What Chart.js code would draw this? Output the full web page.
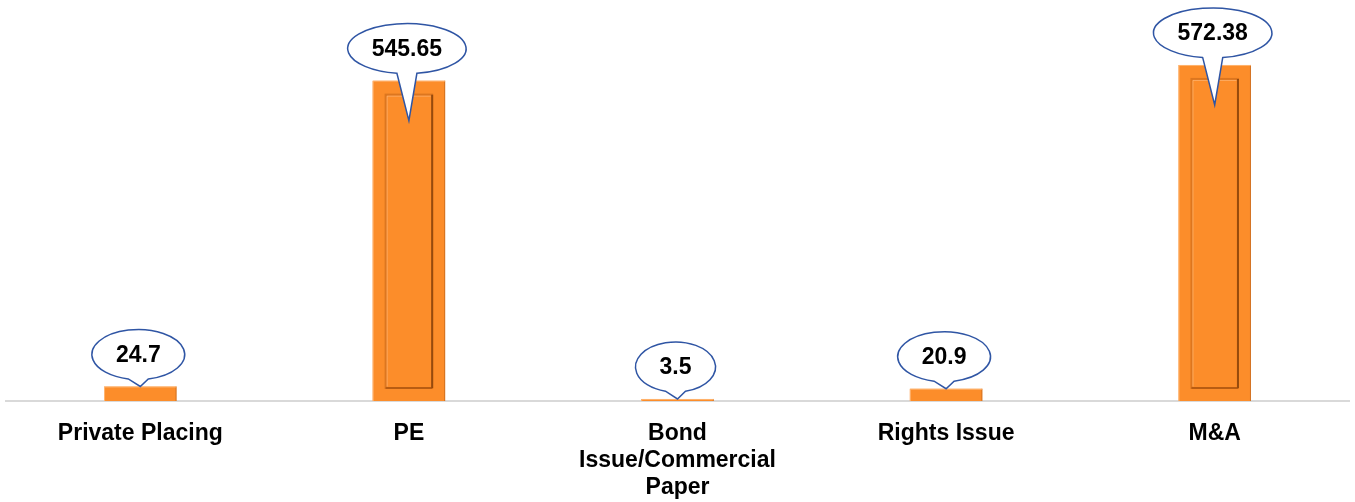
<!DOCTYPE html>
<html lang="en">
<head>
  <meta charset="UTF-8" />
  <title>Deal Value</title>
  <script src="https://cdn.jsdelivr.net/npm/chart.js"></script>
  <style>
    html, body { margin: 0; padding: 0; background: #fff; }
    #wrap { width: 1355px; height: 502px; }
  </style>
</head>
<body>
  <div id="wrap"><canvas id="chartDeals"></canvas></div>

  <script>
    // Datos del grafico
    const categorias = ['Private Placing', 'PE', ['Bond', 'Issue/Commercial', 'Paper'], 'Rights Issue', 'M&A'];
    const valores = [24.7, 545.65, 3.5, 20.9, 572.38];
    const etiquetas = ['24.7', '545.65', '3.5', '20.9', '572.38'];

    // Relieve de las barras
    const relieveBarras = {
      id: 'relieveBarras',
      afterDatasetsDraw(chart) {
        const ctx = chart.ctx;
        chart.getDatasetMeta(0).data.forEach(bar => {
          const left = bar.x - bar.width / 2;
          const right = bar.x + bar.width / 2;
          const top = bar.y;
          const bottom = bar.base;
          ctx.save();
          // borde exterior
          ctx.strokeStyle = 'rgba(160,80,20,0.45)';
          ctx.lineWidth = 1;
          ctx.beginPath();
          ctx.moveTo(right - 0.5, top);
          ctx.lineTo(right - 0.5, bottom);
          ctx.stroke();
          ctx.strokeStyle = 'rgba(255,190,130,0.8)';
          ctx.beginPath();
          ctx.moveTo(left + 0.5, bottom);
          ctx.lineTo(left + 0.5, top + 0.5);
          ctx.lineTo(right, top + 0.5);
          ctx.stroke();
          if (bottom - top > 40) {
            const il = left + 13, ir = right - 13, it = top + 14, ib = bottom - 13;
            ctx.strokeStyle = 'rgba(190,95,20,0.5)';
            ctx.lineWidth = 2;
            ctx.strokeRect(il, it, ir - il, ib - it);
            ctx.strokeStyle = 'rgba(120,55,5,0.7)';
            ctx.beginPath();
            ctx.moveTo(ir, it);
            ctx.lineTo(ir, ib);
            ctx.stroke();
            ctx.strokeStyle = 'rgba(160,75,10,0.6)';
            ctx.beginPath();
            ctx.moveTo(ir, ib);
            ctx.lineTo(il, ib);
            ctx.stroke();
            ctx.strokeStyle = 'rgba(255,200,150,0.5)';
            ctx.lineWidth = 1;
            ctx.beginPath();
            ctx.moveTo(il + 1.5, ib - 1.5);
            ctx.lineTo(il + 1.5, it + 1.5);
            ctx.lineTo(ir - 1.5, it + 1.5);
            ctx.stroke();
          }
          ctx.restore();
        });
      }
    };

    // Globos con los valores
    const globos = {
      id: 'globos',
      afterDraw(chart) {
        const ctx = chart.ctx;
        ctx.save();
        ctx.font = 'bold 23px Arial, "Liberation Sans", sans-serif';
        chart.getDatasetMeta(0).data.forEach((bar, i) => {
          const alto = bar.base - bar.y;
          const tipX = bar.x;
          const tipY = alto > 60 ? bar.y + 40 : bar.y;
          const cx = bar.x - 2;
          const cy = bar.y - 32;
          const tw = ctx.measureText(etiquetas[i]).width;
          const rx = (tw + 48) / 2;
          const ry = 25;
          const w = 10;
          const t1 = Math.acos(w / rx);
          const t2 = Math.PI - t1;
          ctx.beginPath();
          ctx.ellipse(cx, cy, rx, ry, 0, t1, t2, true);
          ctx.lineTo(tipX, tipY);
          ctx.closePath();
          ctx.fillStyle = '#ffffff';
          ctx.fill();
          ctx.strokeStyle = '#2f55a4';
          ctx.lineWidth = 1.5;
          ctx.stroke();
          ctx.fillStyle = '#000000';
          ctx.textAlign = 'center';
          ctx.textBaseline = 'middle';
          ctx.fillText(etiquetas[i], cx, cy + 1);
        });
        ctx.restore();
      }
    };

    const ctxDeals = document.getElementById('chartDeals').getContext('2d');
    new Chart(ctxDeals, {
      type: 'bar',
      data: {
        labels: categorias,
        datasets: [{
          data: valores,
          backgroundColor: '#fc8d2a',
          borderWidth: 0,
          categoryPercentage: 1,
          barPercentage: 0.27
        }]
      },
      options: {
        responsive: true,
        maintainAspectRatio: false,
        animation: false,
        layout: { padding: { left: 6, right: 6, top: 0, bottom: 0 } },
        scales: {
          x: {
            grid: { display: false, drawTicks: false },
            border: { display: true, color: '#d9d9d9', width: 2 },
            afterFit(scale) { scale.height = 101; },
            ticks: {
              color: '#000000',
              autoSkip: false,
              maxRotation: 0,
              padding: 19,
              font: { family: 'Arial, "Liberation Sans", sans-serif', size: 23, weight: 'bold', lineHeight: 1.17 }
            }
          },
          y: {
            display: false,
            min: 0,
            max: 683
          }
        },
        plugins: {
          legend: { display: false },
          tooltip: { enabled: false }
        }
      },
      plugins: [relieveBarras, globos]
    });
  </script>
</body>
</html>
